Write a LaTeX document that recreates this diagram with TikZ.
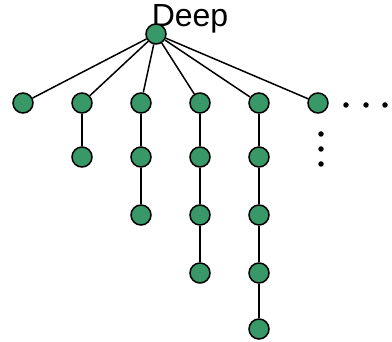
\documentclass[tikz,border=0pt]{standalone}
\usepackage{fontspec}
\setmainfont{Liberation Sans}
\definecolor{nodegreen}{RGB}{56,152,104}
\begin{document}
\begin{tikzpicture}[x=1pt,y=-1pt,
  tn/.style={circle,draw=black,line width=1.5pt,fill=nodegreen,minimum size=20pt,inner sep=0pt},
  edge/.style={line width=1.5pt,black},
  dotmark/.style={circle,fill=black,minimum size=5.5pt,inner sep=0pt}]
\useasboundingbox (0,0) rectangle (392,342);
\node[anchor=base,font=\fontsize{32}{32}\selectfont,inner sep=0pt] (title) at (190,27) {Deep};
\node[tn] (r) at (156,34) {};
% level 1
\foreach \i/\x in {1/23,2/82,3/141,4/200,5/259,6/318} {
  \node[tn] (a\i) at (\x,103) {};
}
\node[tn] (b2) at (82,157) {};
\node[tn] (b3) at (141,157) {};
\node[tn] (c3) at (141,215) {};
\node[tn] (b4) at (200,157) {};
\node[tn] (c4) at (200,215) {};
\node[tn] (d4) at (200,273) {};
\node[tn] (b5) at (259,157) {};
\node[tn] (c5) at (259,215) {};
\node[tn] (d5) at (259,273) {};
\node[tn] (e5) at (259,329) {};
\foreach \i in {1,...,6} { \draw[edge] (r) -- (a\i); }
\draw[edge] (a2) -- (b2);
\draw[edge] (a3) -- (b3) -- (c3);
\draw[edge] (a4) -- (b4) -- (c4) -- (d4);
\draw[edge] (a5) -- (b5) -- (c5) -- (d5) -- (e5);
\node[dotmark] (h1) at (346,105) {};
\node[dotmark] (h2) at (366,105) {};
\node[dotmark] (h3) at (385,105) {};
\node[dotmark] (v1) at (321,134) {};
\node[dotmark] (v2) at (321,149) {};
\node[dotmark] (v3) at (321,164) {};
\end{tikzpicture}
\end{document}
